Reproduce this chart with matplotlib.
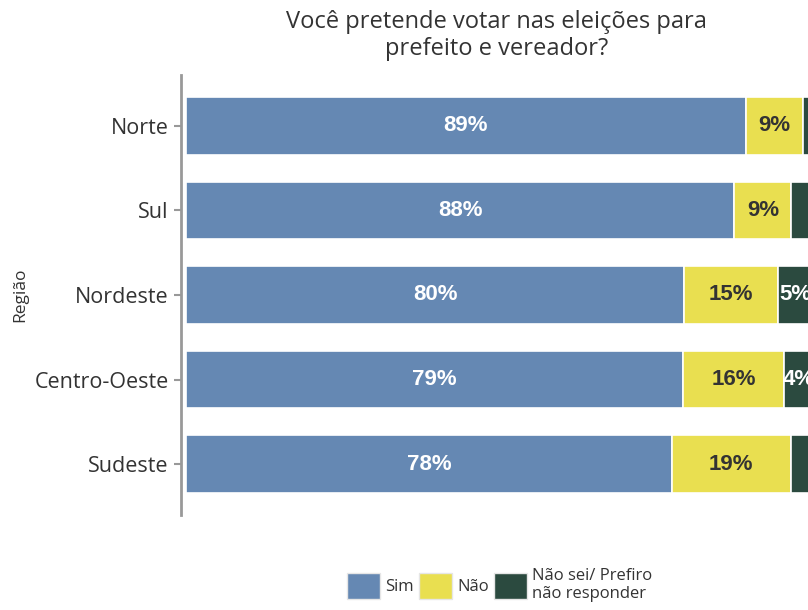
import matplotlib
matplotlib.use("Agg")
import matplotlib.pyplot as plt
from matplotlib.patches import Patch

# dados por região (percentuais)
regioes = ["Sudeste", "Centro-Oeste", "Nordeste", "Sul", "Norte"]
sim = [77.6, 79.4, 79.6, 87.6, 89.4]
nao = [19.0, 16.2, 15.0, 9.1, 9.2]
ns = [3.4, 4.4, 5.4, 3.3, 1.4]
categorias = ["Sim", "Não", "Não sei/ Prefiro\nnão responder"]

cores = ["#6588b3", "#e9df50", "#2b4a3f"]
cor_texto = ["white", "#333333", "white"]

plt.rcParams["font.family"] = ["Open Sans", "DejaVu Sans"]

fig = plt.figure(figsize=(8.08, 6.10), dpi=100)
ax = fig.add_axes([181 / 808, 1 - 515 / 610, (817 - 181) / 808, (515 - 75) / 610])

y = list(range(len(regioes)))
esquerda = [0.0] * len(regioes)
for serie, cor, ctxt in zip([sim, nao, ns], cores, cor_texto):
    ax.barh(y, serie, left=esquerda, height=0.68, color=cor,
            edgecolor="white", linewidth=1.2)
    for i, v in enumerate(serie):
        if v >= 4:
            ax.text(esquerda[i] + v / 2, y[i], f"{round(v)}%", ha="center", va="center",
                    color=ctxt, fontsize=16, fontweight="bold", fontstretch="normal",
                    family=["Liberation Sans", "DejaVu Sans"])
    esquerda = [a + b for a, b in zip(esquerda, serie)]

ax.set_xlim(-0.8, 100.8)
ax.set_ylim(-0.6, 4.6)
ax.set_yticks(y)
ax.set_yticklabels(regioes, fontsize=15.5, color="#333333")
ax.set_xticks([])
ax.set_ylabel("Região", fontsize=12.5, color="#333333", labelpad=4)

for s in ["top", "right", "bottom"]:
    ax.spines[s].set_visible(False)
ax.spines["left"].set_color("#999999")
ax.spines["left"].set_linewidth(2)
ax.tick_params(axis="y", length=5, width=1.5, color="#999999", pad=4)

fig.text(0.615, 0.983, "Você pretende votar nas eleições para\nprefeito e vereador?",
         ha="center", va="top", fontsize=17, color="#333333", linespacing=1.12)

handles = [Patch(facecolor=c, edgecolor="#e6e6e6", linewidth=1) for c in cores]
fig.legend(handles, categorias, loc="center", bbox_to_anchor=(0.618, 0.041),
           ncol=3, frameon=False, fontsize=12, handlelength=2.0, handleheight=2.0,
           handletextpad=0.3, columnspacing=0.3, labelcolor="#333333")

fig.savefig("out.png", dpi=100)
